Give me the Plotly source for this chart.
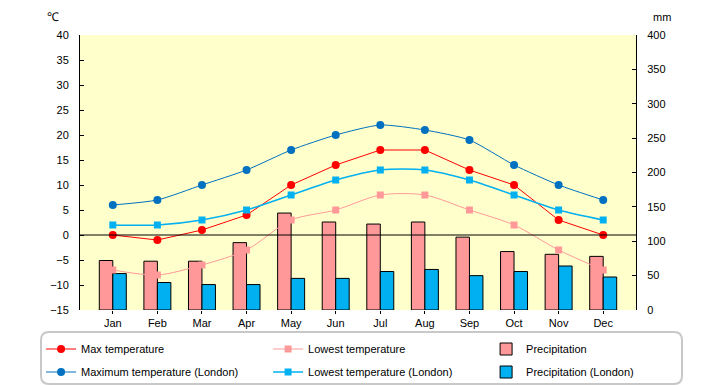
import plotly.graph_objects as go

months = ["Jan", "Feb", "Mar", "Apr", "May", "Jun", "Jul", "Aug", "Sep", "Oct", "Nov", "Dec"]
max_temp = [0, -1, 1, 4, 10, 14, 17, 17, 13, 10, 3, 0]
low_temp = [-7, -8, -6, -3, 3, 5, 8, 8, 5, 2, -3, -7]
precip = [72, 71, 71, 98, 141, 128, 125, 128, 106, 85, 81, 78]
max_london = [6, 7, 10, 13, 17, 20, 22, 21, 19, 14, 10, 7]
low_london = [2, 2, 3, 5, 8, 11, 13, 13, 11, 8, 5, 3]
precip_london = [53, 40, 37, 37, 46, 46, 56, 59, 50, 56, 64, 48]

temp_ticks = list(range(-15, 41, 5))
mm_ticks = list(range(0, 401, 50))

FONT = "Liberation Sans, Arial, sans-serif"

fig = go.Figure()

# bars on primary y (right side, mm)
fig.add_trace(go.Bar(x=months, y=precip, name="Precipitation", yaxis="y",
                     marker=dict(color="#FF9999", line=dict(color="black", width=1)),
                     legend="legend", legendwidth=120, legendrank=3))
fig.add_trace(go.Bar(x=months, y=precip_london, name="Precipitation (London)", yaxis="y",
                     marker=dict(color="#00B0F0", line=dict(color="black", width=1)),
                     legend="legend2", legendwidth=140, legendrank=3))

# lines on y2 (left side, temperature)
fig.add_trace(go.Scatter(x=months, y=max_temp, name="Max temperature", yaxis="y2",
                         mode="lines+markers", line=dict(color="#FF0000", width=1),
                         marker=dict(symbol="circle", size=8, color="#FF0000"),
                         legend="legend", legendwidth=182, legendrank=1))
fig.add_trace(go.Scatter(x=months, y=low_temp, name="Lowest temperature", yaxis="y2",
                         mode="lines+markers", line=dict(color="#FF9999", width=1, shape="spline", smoothing=0.8),
                         marker=dict(symbol="square", size=7, color="#FF9999"),
                         legend="legend", legendwidth=173, legendrank=2))
fig.add_trace(go.Scatter(x=months, y=max_london, name="Maximum temperature (London)", yaxis="y2",
                         mode="lines+markers", line=dict(color="#0070C0", width=1, shape="spline", smoothing=0.6),
                         marker=dict(symbol="circle", size=8, color="#0070C0"),
                         legend="legend2", legendwidth=182, legendrank=1))
fig.add_trace(go.Scatter(x=months, y=low_london, name="Lowest temperature (London)", yaxis="y2",
                         mode="lines+markers", line=dict(color="#00B0F0", width=1.5, shape="spline", smoothing=0.8),
                         marker=dict(symbol="square", size=7, color="#00B0F0"),
                         legend="legend2", legendwidth=173, legendrank=2))

leg_common = dict(orientation="h", xanchor="left", yanchor="middle", x=-0.07,
                  font=dict(family=FONT, size=11, color="black"),
                  bgcolor="rgba(0,0,0,0)", borderwidth=0, itemwidth=30,
                  traceorder="normal", itemclick=False)

# paper coordinates helpers: plot area x 80..636, y 35..310
def px_x(p):
    return (p - 80) / 556.0

def px_y(p):
    return (310 - p) / 275.0

x0, x1 = px_x(41), px_x(682)
yt, yb = px_y(332), px_y(384)
rx, ry = 8 / 556.0, 8 / 275.0
path = (f"M {x0+rx},{yt} L {x1-rx},{yt} Q {x1},{yt} {x1},{yt-ry} "
        f"L {x1},{yb+ry} Q {x1},{yb} {x1-rx},{yb} "
        f"L {x0+rx},{yb} Q {x0},{yb} {x0},{yb+ry} "
        f"L {x0},{yt-ry} Q {x0},{yt} {x0+rx},{yt} Z")

fig.update_layout(
    width=720, height=385,
    margin=dict(l=80, r=84, t=35, b=75, autoexpand=False),
    paper_bgcolor="white",
    plot_bgcolor="#FFFFCC",
    font=dict(family=FONT, size=11, color="black"),
    barmode="group", bargap=0.395, bargroupgap=0,
    showlegend=True,
    legend=dict(**leg_common, y=px_y(349)),
    legend2=dict(**leg_common, y=px_y(372)),
    xaxis=dict(type="category", showgrid=False, showline=False, ticks="outside",
               ticklen=3, tickcolor="black", zeroline=False,
               tickfont=dict(family=FONT, size=11, color="black")),
    yaxis=dict(range=[0, 400], tickvals=mm_ticks, side="right", showgrid=False,
               zeroline=False, showline=True, linecolor="black", linewidth=1,
               ticks="inside", ticklen=4, tickcolor="black", ticklabelstandoff=8,
               tickfont=dict(family=FONT, size=11, color="black")),
    yaxis2=dict(range=[-15, 40], tickvals=temp_ticks, side="left", overlaying="y",
                showgrid=False, zeroline=False, showline=True, linecolor="black",
                linewidth=1, ticks="inside", ticklen=4, tickcolor="black",
                ticklabelstandoff=8,
                tickfont=dict(family=FONT, size=11, color="black")),
    shapes=[
        dict(type="line", xref="paper", yref="y2", x0=0, x1=1, y0=0, y1=0,
             line=dict(color="black", width=1), layer="above"),
        dict(type="path", xref="paper", yref="paper", path=path,
             line=dict(color="#C8C8C8", width=2), fillcolor="rgba(0,0,0,0)", layer="above"),
    ],
    annotations=[
        dict(text="℃", xref="paper", yref="paper", x=px_x(53), y=px_y(17),
             showarrow=False, xanchor="center", yanchor="middle",
             font=dict(family=FONT, size=12, color="black")),
        dict(text="mm", xref="paper", yref="paper", x=px_x(662), y=px_y(17),
             showarrow=False, xanchor="center", yanchor="middle",
             font=dict(family=FONT, size=11, color="black")),
    ],
)

fig.write_html("out.html",
               config={"displayModeBar": False},
               post_script="document.body.style.margin='0';document.body.style.overflow='hidden';")
